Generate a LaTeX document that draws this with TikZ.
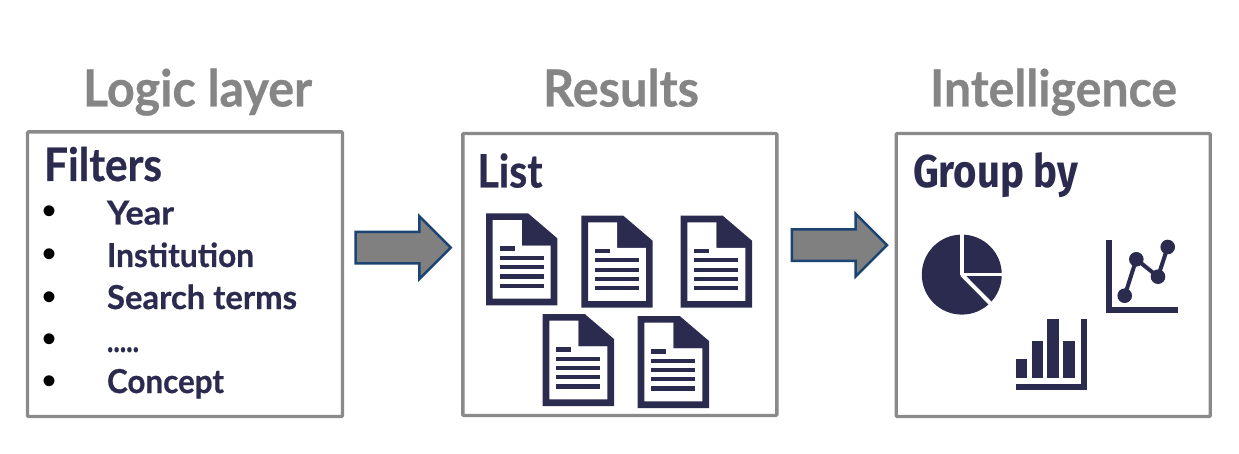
\documentclass[tikz,border=0pt]{standalone}
\usepackage{fontspec}
\usepackage{graphicx}
\usetikzlibrary{shapes.arrows}
\setmainfont{Lato}[BoldFont={* Bold},BoldFeatures={FakeBold=0.6}]
\newfontfamily\groupfont{Fira Sans}
\newfontfamily\bulletfont{Liberation Sans}
\definecolor{navy}{HTML}{2B2B4F}
\definecolor{titlegray}{HTML}{858585}
\definecolor{boxgray}{HTML}{8A8A8A}
\definecolor{arrowgray}{HTML}{808080}
\definecolor{arrowblue}{HTML}{1B4472}
\newcommand{\fitw}[2]{\resizebox{#1pt}{\height}{#2}}
\tikzset{
  x=1pt,y=-1pt,
  txt/.style={anchor=base west,inner sep=0pt,outer sep=0pt},
  titletext/.style={txt,text=titlegray,font=\fontsize{51}{51}\selectfont\bfseries},
  headtext/.style={txt,text=navy,font=\fontsize{46}{46}\selectfont\bfseries},
  itemtext/.style={txt,text=navy,font=\fontsize{33}{33}\selectfont\bfseries},
  bullettext/.style={anchor=base,inner sep=0pt,outer sep=0pt,text=black,font=\fontsize{40}{40}\bulletfont},
  panel/.style={draw=boxgray,line width=3.4pt,rounded corners=1pt,fill=white,inner sep=0pt},
  blockarrow/.style={single arrow,draw=arrowblue,fill=arrowgray,line width=2.5pt,
    minimum height=95pt,inner ysep=14.5pt,inner xsep=0pt,single arrow head extend=15.5pt,
    single arrow tip angle=90,outer sep=0pt},
  pics/docicon/.style={code={
    \fill[navy,even odd rule] (0,0)--(42,0)--(71.3,25)--(71.3,92)--(0,92)--cycle
      (6.7,6.7)--(36,6.7)--(36,32)--(64.7,32)--(64.7,85.3)--(6.7,85.3)--cycle;
    \fill[navy] (36,6.7)--(42,6.7)--(42,24)--(57.3,24)--(64.7,32)--(36,32)--cycle;
    \fill[navy] (13.7,33.2) rectangle (28.7,37.5);
    \foreach \yy in {44.7,54,63.2,72.4}
      \fill[navy] (13.7,\yy-2.1) rectangle (57.7,\yy+2.1);
  }},
}
\begin{document}
\begin{tikzpicture}
\useasboundingbox (0,0) rectangle (1239,454);
\fill[white] (0,0) rectangle (1239,454);

% titles
\node[titletext] (tA) at (83,106.5) {\fitw{229}{Logic layer}};
\node[titletext] (tB) at (543,106.5) {\fitw{156}{Results}};
\node[titletext] (tC) at (930,106.5) {\fitw{247}{Intelligence}};

% panels
\node[panel,minimum width=315pt,minimum height=284.5pt] (boxA) at (185,274.2) {};
\node[panel,minimum width=314pt,minimum height=282pt] (boxB) at (619.8,274.5) {};
\node[panel,minimum width=314pt,minimum height=283pt] (boxC) at (1053.2,275) {};

% block arrows
\node[blockarrow] (arrA) at (395.3,247.6) {};
\node[blockarrow] (arrB) at (831.6,245.2) {};

% first panel
\node[headtext] (hA) at (44,181) {\fitw{118}{Filters}};
\node[itemtext] (i1) at (107,224.5) {\fitw{67}{Year}};
\node[itemtext] (i2) at (107,267) {\fitw{147}{Institution}};
\node[itemtext] (i3) at (107,309) {\fitw{190}{Search terms}};
\node[itemtext] (i4) at (107,352) {\fitw{32}{.....}};
\node[itemtext] (i5) at (107,393) {\fitw{117}{Concept}};
\node[bullettext] (b1) at (50,225) {•};
\node[bullettext] (b2) at (50,268) {•};
\node[bullettext] (b3) at (50,310) {•};
\node[bullettext] (b4) at (50,352) {•};
\node[bullettext] (b5) at (50,394) {•};

% second panel
\node[headtext] (hB) at (477.5,187.5) {\fitw{65}{List}};
\pic at (486,213.3) {docicon};
\pic at (581.3,215.7) {docicon};
\pic at (680.7,215.7) {docicon};
\pic at (542.7,314) {docicon};
\pic at (637.7,316) {docicon};

% third panel
\node[headtext,font=\fontsize{46}{46}\groupfont\bfseries] (hC) at (913,187.5) {\fitw{165}{Group by}};

% pie
\fill[navy] (961.8,274.6) circle (40);
\draw[white,line width=4pt] (961.8,274.6)--(961.8,230);
\draw[white,line width=3.6pt] (961.8,274.6)--(1006,274.6);
\draw[white,line width=4pt] (961.8,274.6)--(993,306);

% bar chart
\fill[navy] (1015.7,359) rectangle (1027.3,377.7);
\fill[navy] (1031.7,341.3) rectangle (1043.3,377.7);
\fill[navy] (1047.3,319) rectangle (1058.7,377.7);
\fill[navy] (1063,341.3) rectangle (1074.7,377.7);
\fill[navy] (1081,319) rectangle (1087,390);
\fill[navy] (1015.7,384.3) rectangle (1087,390);

% line chart
\fill[navy] (1105.7,239.7) rectangle (1111.7,313.3);
\fill[navy] (1105.7,307.3) rectangle (1178.3,313.3);
\draw[navy,line width=4pt] (1124.7,295.7)--(1136.3,259.3)--(1158,276.7)--(1167.7,247);
\fill[navy] (1124.7,295.7) circle (7.3);
\fill[navy] (1136.3,259.3) circle (7.3);
\fill[navy] (1158,276.7) circle (7.3);
\fill[navy] (1167.7,247) circle (7.3);
\end{tikzpicture}
\end{document}
